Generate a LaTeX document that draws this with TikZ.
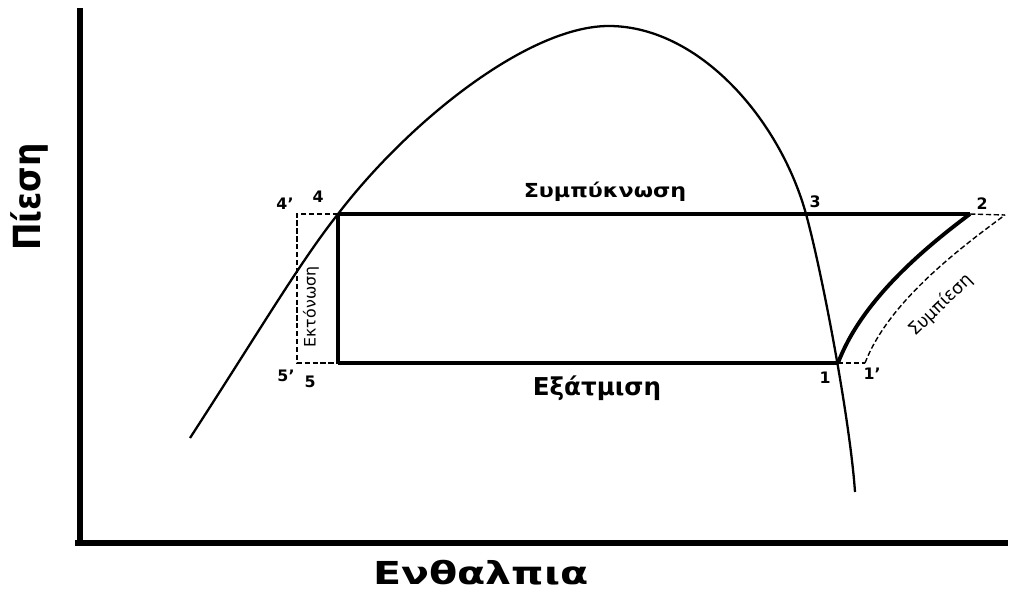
\documentclass[tikz,border=0pt]{standalone}
\usepackage{fontspec}
\setmainfont{DejaVu Sans}
\begin{document}
\begin{tikzpicture}[x=0.02cm,y=-0.02cm,
  num/.style={font=\bfseries\fontsize{9}{10}\selectfont},
  dashline/.style={line width=0.8pt,dash pattern=on 3pt off 1.5pt},
  cycleline/.style={line width=1.8pt}]
  \useasboundingbox (0,0) rectangle (1010,592);
  % axes
  \coordinate (ytop) at (80,8);
  \coordinate (o) at (80,543);
  \coordinate (xstart) at (75,543);
  \coordinate (xend) at (1008,543);
  \draw[line width=3.2pt] (ytop) -- (o);
  \draw[line width=3.2pt] (xstart) -- (xend);
  \node[rotate=90,font=\bfseries\fontsize{17}{20}\selectfont] (ylab) at (29,197) {\scalebox{1.1}[1.25]{Πίεση}};
  \node[font=\bfseries\fontsize{18}{20}\selectfont] (xlab) at (481,573) {\scalebox{1.3}[1]{Ενθαλπια}};
  % saturation dome
  \draw[line width=1.3pt] (190,438) .. controls (260,330) and (300,262) .. (338,214)
    .. controls (410,120) and (530,25) .. (610,26)
    .. controls (700,27) and (780,120) .. (806,214)
    .. controls (822,272) and (850,420) .. (855,492);
  % cycle points
  \coordinate (p1) at (838,363);
  \coordinate (p1d) at (865,363);
  \coordinate (p2) at (970,214);
  \coordinate (p2d) at (1005,215);
  \coordinate (p4) at (338,214);
  \coordinate (p4d) at (297,214);
  \coordinate (p5) at (338,363);
  \coordinate (p5d) at (297,363);
  % ideal cycle
  \draw[cycleline] (p4) -- (p2);
  \draw[cycleline] (p5) -- (p1);
  \draw[line width=2.6pt] (p4) -- (p5);
  \draw[line width=2.2pt] (p1) .. controls (860,305) and (915,255) .. (p2);
  % real cycle
  \draw[dashline] (p4) -- (p4d) -- (p5d) -- (p5);
  \draw[dashline] (p1) -- (p1d);
  \draw[dashline] (p2) -- (p2d);
  \draw[dashline] (p1d) .. controls (887,306) and (950,255) .. (p2d);
  % labels
  \node[num] (l4d) at (285,204) {4'};
  \node[num] (l4) at (318,197) {4};
  \node[num] (l3) at (815,202) {3};
  \node[num] (l2) at (982,204) {2};
  \node[num] (l5d) at (286,376) {5'};
  \node[num] (l5) at (310,382) {5};
  \node[num] (l1) at (825,378) {1};
  \node[num] (l1d) at (872,374) {1'};
  \node[font=\bfseries\fontsize{11}{12}\selectfont] (cond) at (605,192) {\scalebox{1.15}[1]{Συμπύκνωση}};
  \node[font=\bfseries\fontsize{14}{16}\selectfont] (evap) at (597,388) {Εξάτμιση};
  \node[rotate=90,font=\fontsize{9}{10}\selectfont] (exp) at (311,307) {Εκτόνωση};
  \node[rotate=44,font=\fontsize{10}{11}\selectfont] (comp) at (941,305) {Συμπίεση};
\end{tikzpicture}
\end{document}
